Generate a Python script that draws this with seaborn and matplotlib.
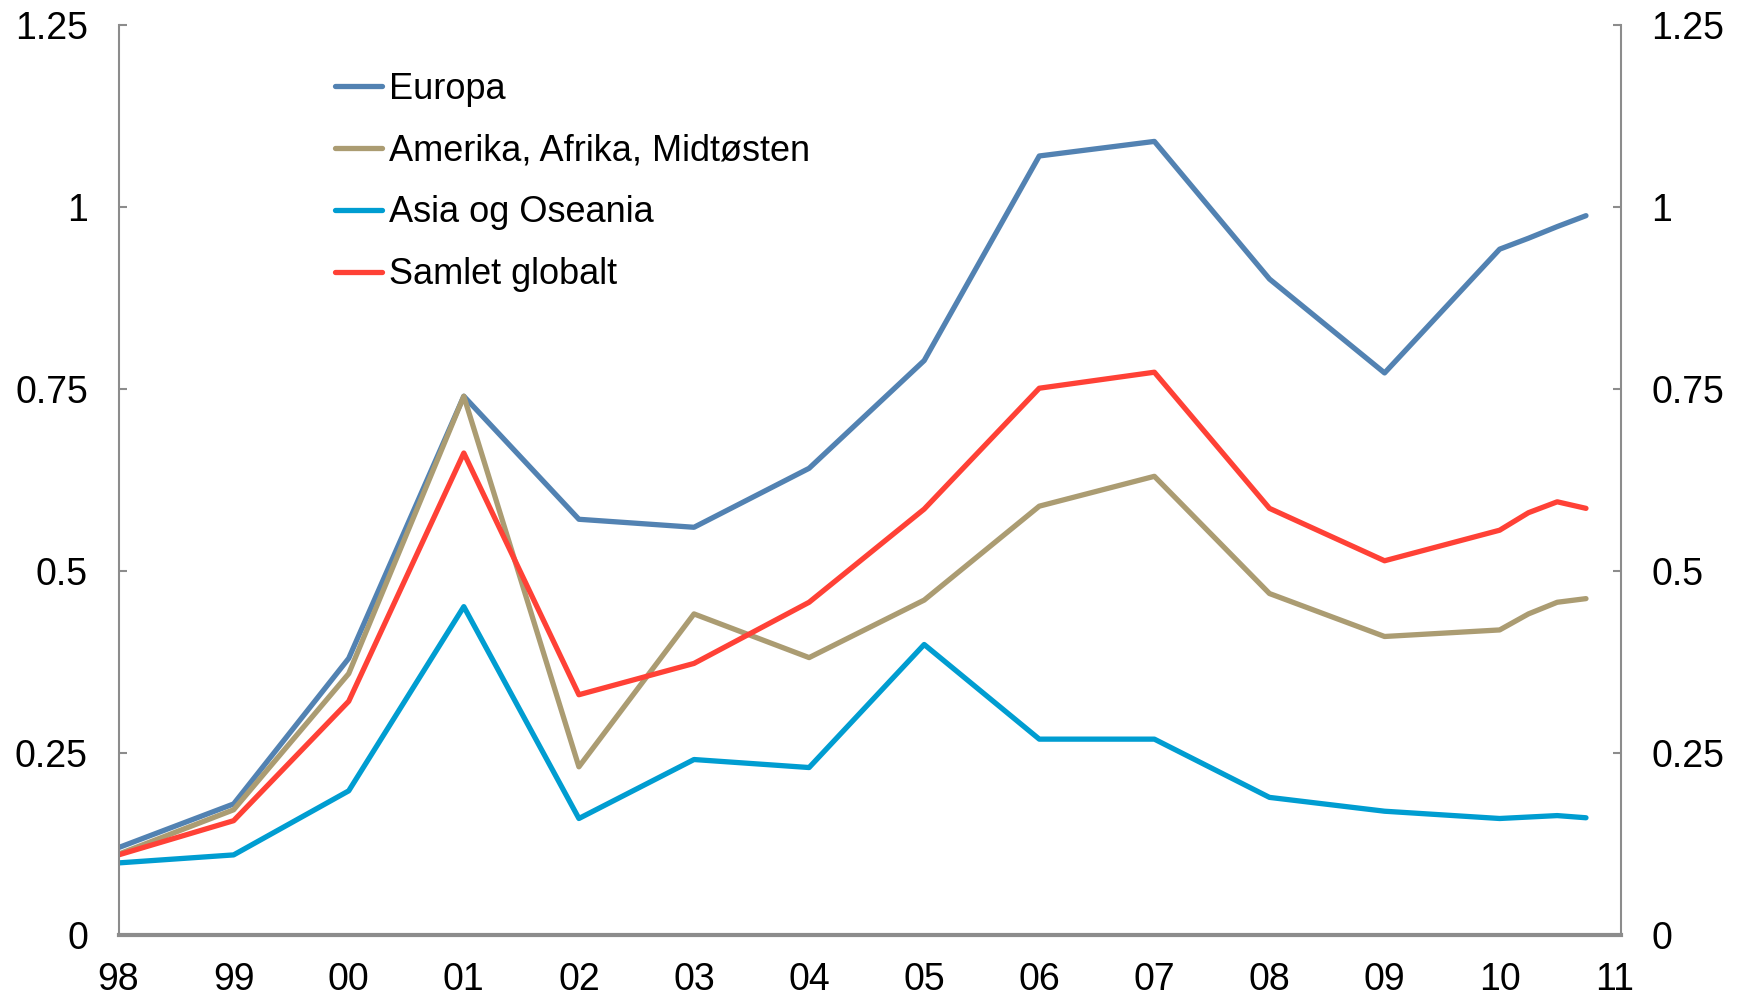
import numpy as np
import pandas as pd
import matplotlib
matplotlib.use("Agg")
import matplotlib.pyplot as plt
import seaborn as sns

#data
years=[1998,1999,2000,2001,2002,2003,2004,2005,2006,2007,2008,2009,2010,2010.25,2010.5,2010.75]
europa=[0.12,0.18,0.38,0.74,0.571,0.56,0.641,0.789,1.07,1.09,0.901,0.772,0.942,0.957,0.973,0.988]
amerika=[0.111,0.172,0.359,0.74,0.231,0.441,0.381,0.46,0.589,0.63,0.469,0.41,0.419,0.441,0.457,0.462]
asia=[0.099,0.11,0.198,0.451,0.16,0.241,0.23,0.399,0.269,0.269,0.189,0.17,0.16,0.162,0.164,0.161]
samlet=[0.11,0.157,0.321,0.662,0.33,0.373,0.457,0.585,0.751,0.773,0.586,0.514,0.556,0.58,0.595,0.586]

series_names=["Europa","Amerika, Afrika, Midtøsten","Asia og Oseania","Samlet globalt"]
colors=["#5282B2","#AB9C72","#009DD1","#FF4136"]

tick_years=[1998,1999,2000,2001,2002,2003,2004,2005,2006,2007,2008,2009,2010,2011]
tick_labels=["98","99","00","01","02","03","04","05","06","07","08","09","10","11"]
y_ticks=[0,0.25,0.5,0.75,1,1.25]
y_labels=["0","0.25","0.5","0.75","1","1.25"]

df=pd.DataFrame({"year":years*4,
                 "value":europa+amerika+asia+samlet,
                 "serie":sum([[n]*len(years) for n in series_names],[])})

sns.set_style("white")
plt.rcParams["font.family"]=["Liberation Sans","DejaVu Sans"]
plt.rcParams["text.color"]="black"
plt.rcParams["xtick.color"]="black"
plt.rcParams["ytick.color"]="black"

fig=plt.figure(figsize=(17.38,9.97),dpi=100)
ax=fig.add_axes([0.0682,0.0622,0.8642,0.9128])

sns.lineplot(data=df,x="year",y="value",hue="serie",hue_order=series_names,
             palette=dict(zip(series_names,colors)),linewidth=3.8,ax=ax,
             estimator=None,sort=False)

ax.set_xlim(1998,2011.05)
ax.set_ylim(0,1.25)
ax.set_xticks(tick_years)
ax.set_xticklabels(tick_labels)
ax.set_yticks(y_ticks)
ax.set_yticklabels(y_labels)
ax.set_xlabel("")
ax.set_ylabel("")

for s in ["left","right","bottom"]:
    ax.spines[s].set_visible(True)
    ax.spines[s].set_color("#8C8C8C")
ax.spines["left"].set_linewidth(1.5)
ax.spines["right"].set_linewidth(1.5)
ax.spines["bottom"].set_linewidth(3)
ax.spines["top"].set_visible(False)

ax.tick_params(axis="y",which="both",left=True,right=True,labelleft=True,labelright=True,
               direction="in",length=6,width=1.5,color="#8C8C8C",labelcolor="black",labelsize=27,pad=22)
ax.tick_params(axis="x",bottom=False,labelsize=27,labelcolor="black",pad=16)

leg=ax.legend(loc="upper left",bbox_to_anchor=(335/1738,1-72/997),bbox_transform=fig.transFigure,
              frameon=False,fontsize=26,handlelength=1.3,handletextpad=0.2,labelspacing=0.74,
              borderpad=0,borderaxespad=0)
for line in leg.get_lines():
    line.set_linewidth(3.8)
for t in leg.get_texts():
    t.set_color("black")

plt.savefig("out.png",dpi=100)
